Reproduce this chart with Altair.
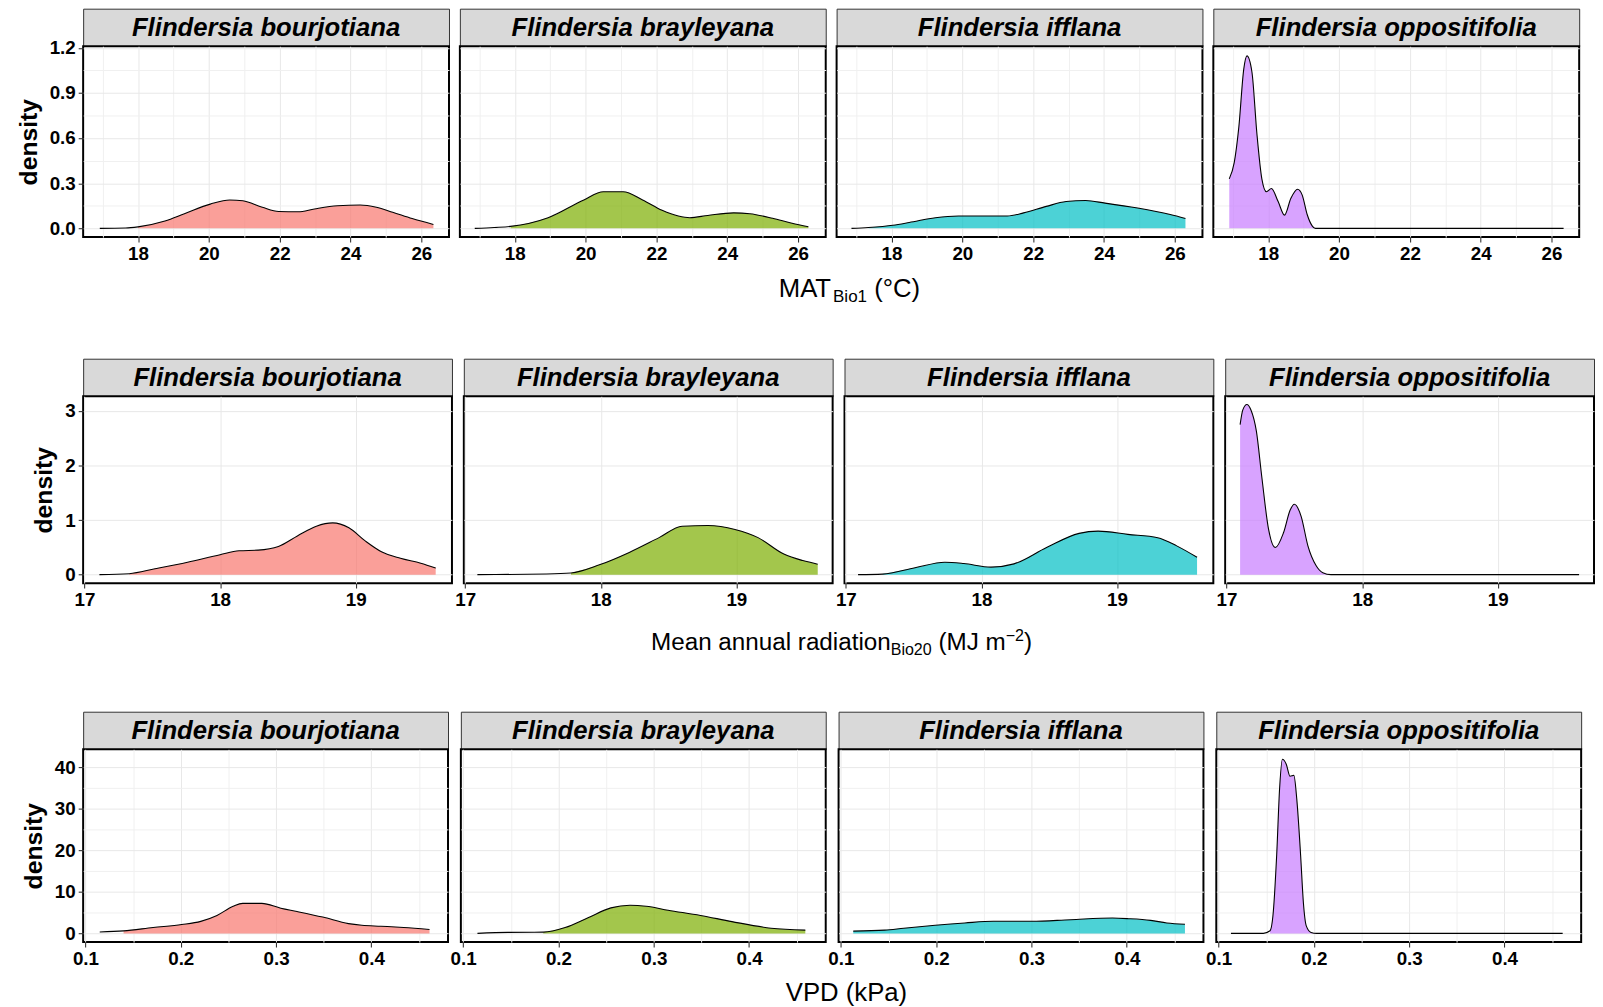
import json
import pandas as pd
import altair as alt

SPECIES = ["Flindersia bourjotiana", "Flindersia brayleyana", "Flindersia ifflana", "Flindersia oppositifolia"]
COLORS = ["#F8766D", "#7CAE00", "#00BFC4", "#C77CFF"]

# ---------------- MAT (Bio1) ----------------
MAT_X_BOUR = [16.92, 17.65, 18.0, 18.76, 19.31, 20.04, 20.59, 20.96, 21.51, 21.97, 22.52, 22.98, 23.63, 24.27, 24.73, 25.19, 25.74, 26.34]
MAT_Y_BOUR = [0, 0.002, 0.01, 0.049, 0.097, 0.161, 0.189, 0.183, 0.14, 0.112, 0.11, 0.129, 0.15, 0.155, 0.14, 0.107, 0.065, 0.026]
MAT_X_BRAY = [16.87, 17.42, 17.88, 18.94, 19.95, 20.5, 21.06, 21.61, 22.16, 22.62, 22.94, 23.45, 24.18, 24.64, 25.28, 25.83, 26.29]
MAT_Y_BRAY = [0, 0.006, 0.013, 0.071, 0.189, 0.243, 0.243, 0.189, 0.12, 0.082, 0.071, 0.086, 0.103, 0.097, 0.067, 0.034, 0.011]
MAT_X_IFFL = [16.87, 17.35, 18.04, 18.5, 19.24, 19.89, 21.27, 21.73, 22.37, 22.93, 23.48, 24.03, 24.95, 25.87, 26.3]
MAT_Y_IFFL = [0, 0.006, 0.021, 0.039, 0.071, 0.082, 0.082, 0.103, 0.146, 0.178, 0.185, 0.168, 0.135, 0.092, 0.066]
MAT_X_OPPO = [16.9, 17.04, 17.17, 17.31, 17.4, 17.54, 17.68, 17.82, 17.95, 18.09, 18.28, 18.46, 18.64, 18.83, 18.96, 19.1, 19.24, 19.33, 26.34]
MAT_Y_OPPO = [0.329, 0.437, 0.673, 1.06, 1.146, 1.039, 0.63, 0.329, 0.243, 0.265, 0.178, 0.088, 0.2, 0.26, 0.221, 0.092, 0.017, 0, 0]
MAT_FILL = [[18.0, 26.34], [17.88, 26.29], [17.35, 26.3], [16.9, 19.33]]
MAT_X_MAJOR = [18, 20, 22, 24, 26]
MAT_X_MINOR = [17, 19, 21, 23, 25]
MAT_Y_MAJOR = [0.0, 0.3, 0.6, 0.9, 1.2]
MAT_Y_MINOR = [0.15, 0.45, 0.75, 1.05]
MAT_X_DOMAIN = [16.45, 26.78]
MAT_Y_DOMAIN = [-0.058, 1.21]

# ---------------- Radiation (Bio20) ----------------
RAD_X_BOUR = [17.11, 17.33, 17.52, 17.76, 18.0, 18.14, 18.28, 18.43, 18.57, 18.71, 18.83, 18.95, 19.07, 19.19, 19.33, 19.48, 19.59]
RAD_Y_BOUR = [0, 0.018, 0.108, 0.228, 0.366, 0.438, 0.45, 0.517, 0.709, 0.889, 0.949, 0.859, 0.619, 0.42, 0.3, 0.21, 0.12]
RAD_X_BRAY = [17.09, 17.6, 17.78, 17.99, 18.21, 18.43, 18.6, 18.79, 18.99, 19.16, 19.35, 19.49, 19.6]
RAD_Y_BRAY = [0, 0.012, 0.03, 0.18, 0.408, 0.679, 0.889, 0.9, 0.829, 0.679, 0.378, 0.258, 0.192]
RAD_X_IFFL = [17.09, 17.27, 17.51, 17.73, 17.87, 18.07, 18.24, 18.48, 18.72, 18.86, 19.08, 19.3, 19.44, 19.59]
RAD_Y_IFFL = [0, 0.01, 0.126, 0.228, 0.204, 0.138, 0.198, 0.498, 0.757, 0.799, 0.739, 0.678, 0.528, 0.318]
RAD_X_OPPO = [17.1, 17.12, 17.15, 17.18, 17.22, 17.26, 17.31, 17.36, 17.42, 17.47, 17.5, 17.55, 17.6, 17.66, 17.71, 17.77, 19.6]
RAD_Y_OPPO = [2.75, 3.02, 3.12, 3.02, 2.63, 1.79, 0.829, 0.498, 0.769, 1.189, 1.29, 1.07, 0.529, 0.168, 0.036, 0, 0]
RAD_FILL = [[17.33, 19.59], [17.78, 19.6], [17.27, 19.59], [17.1, 17.77]]
RAD_X_MAJOR = [17, 18, 19]
RAD_X_MINOR = [17.5, 18.5, 19.5]
RAD_Y_MAJOR = [0, 1, 2, 3]
RAD_Y_MINOR = [0.5, 1.5, 2.5]
RAD_X_DOMAIN = [16.99, 19.71]
RAD_Y_DOMAIN = [-0.156, 3.27]

# ---------------- VPD ----------------
VPD_X_BOUR = [0.115, 0.14, 0.171, 0.201, 0.221, 0.238, 0.255, 0.265, 0.285, 0.305, 0.322, 0.349, 0.376, 0.39, 0.41, 0.434, 0.461]
VPD_Y_BOUR = [0.35, 0.6, 1.42, 2.13, 2.9, 4.33, 6.54, 7.25, 7.25, 6.07, 5.28, 3.94, 2.36, 1.97, 1.73, 1.42, 0.95]
VPD_X_BRAY = [0.115, 0.147, 0.184, 0.207, 0.231, 0.255, 0.275, 0.292, 0.315, 0.349, 0.382, 0.423, 0.459]
VPD_Y_BRAY = [0, 0.24, 0.3, 1.42, 3.78, 6.15, 6.78, 6.54, 5.6, 4.33, 2.84, 1.26, 0.79]
VPD_X_IFFL = [0.113, 0.146, 0.166, 0.199, 0.23, 0.26, 0.3, 0.341, 0.385, 0.402, 0.425, 0.442, 0.461]
VPD_Y_IFFL = [0.55, 0.79, 1.26, 1.97, 2.52, 2.92, 2.92, 3.31, 3.7, 3.55, 3.15, 2.52, 2.2]
VPD_X_OPPO = [0.113, 0.147, 0.154, 0.157, 0.161, 0.164, 0.167, 0.171, 0.175, 0.179, 0.182, 0.186, 0.189, 0.192, 0.197, 0.203, 0.461]
VPD_Y_OPPO = [0, 0, 0.63, 4.18, 19.1, 34.9, 42.0, 40.8, 37.9, 38.1, 32.5, 19.1, 7.33, 1.81, 0.24, 0, 0]
VPD_FILL = [[0.14, 0.461], [0.184, 0.459], [0.113, 0.461], [0.154, 0.203]]
VPD_X_MAJOR = [0.1, 0.2, 0.3, 0.4]
VPD_X_MINOR = [0.15, 0.25, 0.35, 0.45]
VPD_Y_MAJOR = [0, 10, 20, 30, 40]
VPD_Y_MINOR = [5, 15, 25, 35]
VPD_X_DOMAIN = [0.0976, 0.4804]
VPD_Y_DOMAIN = [-2.1, 44.4]

FONT = "Liberation Sans"
STRIP_H = 38

ROWS = [
    dict(curves=[(MAT_X_BOUR, MAT_Y_BOUR), (MAT_X_BRAY, MAT_Y_BRAY), (MAT_X_IFFL, MAT_Y_IFFL), (MAT_X_OPPO, MAT_Y_OPPO)],
         fill=MAT_FILL, xmaj=MAT_X_MAJOR, xmin=MAT_X_MINOR, ymaj=MAT_Y_MAJOR, ymin=MAT_Y_MINOR,
         xdom=MAT_X_DOMAIN, ydom=MAT_Y_DOMAIN, xfmt="d", yfmt=".1f", h=193, w=370,
         title=[("MAT", 0, 0, 0), ("Bio1", 1, 5, 0), ("(°C)", 0, 0, 1)], tsize=26,
         tsp=11, hsp=9, tcenter=775),
    dict(curves=[(RAD_X_BOUR, RAD_Y_BOUR), (RAD_X_BRAY, RAD_Y_BRAY), (RAD_X_IFFL, RAD_Y_IFFL), (RAD_X_OPPO, RAD_Y_OPPO)],
         fill=RAD_FILL, xmaj=RAD_X_MAJOR, xmin=RAD_X_MINOR, ymaj=RAD_Y_MAJOR, ymin=RAD_Y_MINOR,
         xdom=RAD_X_DOMAIN, ydom=RAD_Y_DOMAIN, xfmt="d", yfmt="d", h=189, w=373,
         title=[("Mean annual radiation", 0, 0, 0), ("Bio20", 1, 5, 0), ("(MJ m", 0, 0, 1),
                ("\u22122", 1, -10, 0), (")", 0, 0, 0)], tsize=24.5,
         tsp=16, hsp=0, tcenter=767),
    dict(curves=[(VPD_X_BOUR, VPD_Y_BOUR), (VPD_X_BRAY, VPD_Y_BRAY), (VPD_X_IFFL, VPD_Y_IFFL), (VPD_X_OPPO, VPD_Y_OPPO)],
         fill=VPD_FILL, xmaj=VPD_X_MAJOR, xmin=VPD_X_MINOR, ymaj=VPD_Y_MAJOR, ymin=VPD_Y_MINOR,
         xdom=VPD_X_DOMAIN, ydom=VPD_Y_DOMAIN, xfmt=".1f", yfmt="d", h=195, w=369,
         title=[("VPD (kPa)", 0, 0, 0)], tsize=26,
         tsp=10, hsp=0, tcenter=772),
]

CHAR_W = {'M': .833, 'A': .667, 'T': .611, 'B': .667, 'i': .222, 'o': .556, '1': .556, '2': .556, '0': .556,
          ' ': .278, '(': .333, ')': .333, '°': .4, 'C': .722, 'e': .556, 'a': .556, 'n': .556, 'u': .556,
          'l': .222, 'r': .333, 'd': .556, 't': .278, 'J': .5, 'm': .833, '\u2212': .584, 'V': .667,
          'P': .667, 'D': .722, 'k': .5}


def text_w(s, size):
    return sum(CHAR_W.get(c, 0.556) for c in s) * size


def major_test(maj):
    return f"indexof({json.dumps(maj)}, datum.value) >= 0"


def make_axis(maj, mnr, fmt, show, title=None):
    test = major_test(maj)
    kw = dict(values=maj + mnr, format=fmt, grid=True, domain=False,
              labelExpr=f"{test} ? datum.label : ''", labelOverlap=False, labelFlush=False,
              tickOpacity={"condition": {"test": test, "value": 1}, "value": 0},
              gridColor={"condition": {"test": test, "value": "#E8E8E8"}, "value": "#F0F0F0"})
    if not show:
        kw.update(labels=False, ticks=False)
    if title:
        kw.update(title=title)
    else:
        kw.update(title=None)
    return alt.Axis(**kw)


def panel(row, i):
    w = row["w"]
    xs, ys = row["curves"][i]
    lo, hi = row["fill"][i]
    df = pd.DataFrame({"x": xs, "density": ys})
    df["filled"] = (df["x"] >= lo - 1e-9) & (df["x"] <= hi + 1e-9)
    x = alt.X("x:Q", scale=alt.Scale(domain=row["xdom"], nice=False, zero=False),
              axis=make_axis(row["xmaj"], row["xmin"], row["xfmt"], True))
    y = alt.Y("density:Q", scale=alt.Scale(domain=row["ydom"], nice=False, zero=False),
              axis=make_axis(row["ymaj"], row["ymin"], row["yfmt"], i == 0, "density" if i == 0 else None))
    base = alt.Chart(df)
    area = base.transform_filter("datum.filled").mark_area(
        color=COLORS[i], opacity=0.7, interpolate="monotone").encode(x=x, y=y, y2=alt.datum(0))
    line = base.mark_line(color="black", strokeWidth=1.1, interpolate="monotone").encode(x=x, y=y)
    plot = alt.layer(area, line).properties(
        width=w, height=row["h"],
        view=alt.ViewBackground(fill="white", stroke="black", strokeWidth=2))
    strip = alt.Chart(pd.DataFrame({"sp": [SPECIES[i]]})).mark_text(
        font=FONT, fontSize=26, fontWeight="bold", fontStyle="italic", color="black", baseline="middle"
    ).encode(text="sp:N", x=alt.value(w / 2), y=alt.value(STRIP_H / 2 + 1)).properties(
        width=w, height=STRIP_H,
        view=alt.ViewBackground(fill="#D9D9D9", stroke="#333333", strokeWidth=1))
    return alt.vconcat(strip, plot, spacing=0, bounds="flush")


def title_chart(pieces, total_w, center, tsize):
    ssize = round(tsize * 0.66, 1)
    widths = []
    for text, small, dy, sp in pieces:
        size = ssize if small else tsize
        widths.append(sp * CHAR_W[' '] * tsize + text_w(text, size))
    start = center - sum(widths) / 2
    layers = []
    pos = start
    for (text, small, dy, sp), wd in zip(pieces, widths):
        size = ssize if small else tsize
        xpos = pos + sp * CHAR_W[' '] * tsize
        layers.append(alt.Chart(pd.DataFrame({"t": [text]})).mark_text(
            font=FONT, fontSize=size, color="black", align="left", baseline="alphabetic"
        ).encode(text="t:N", x=alt.value(xpos), y=alt.value(20 + dy)))
        pos += wd
    return alt.layer(*layers).properties(
        width=total_w, height=22,
        view=alt.ViewBackground(fill="transparent", stroke="transparent"))


blocks = []
for row in ROWS:
    r = alt.hconcat(*[panel(row, i) for i in range(4)], spacing=row["hsp"])
    total_w = 4 * row["w"] + 3 * 9
    blocks.append(alt.vconcat(r, title_chart(row["title"], total_w, row["tcenter"], row["tsize"]),
                              spacing=row["tsp"]))

chart = alt.vconcat(*blocks, spacing=52).properties(
    padding={"left": 7, "top": -6, "right": 0, "bottom": 0}
).configure_axis(
    labelFont=FONT, labelFontSize=19, labelFontWeight="bold", labelColor="black", labelPadding=3,
    titleFont=FONT, titleFontSize=25, titleFontWeight="bold", titleColor="black", titlePadding=8,
    gridWidth=1, tickColor="#333333", tickSize=5, tickWidth=1.1
).configure_view(stroke="black")

chart.save("out.html", embed_options={"renderer": "svg", "actions": False})
